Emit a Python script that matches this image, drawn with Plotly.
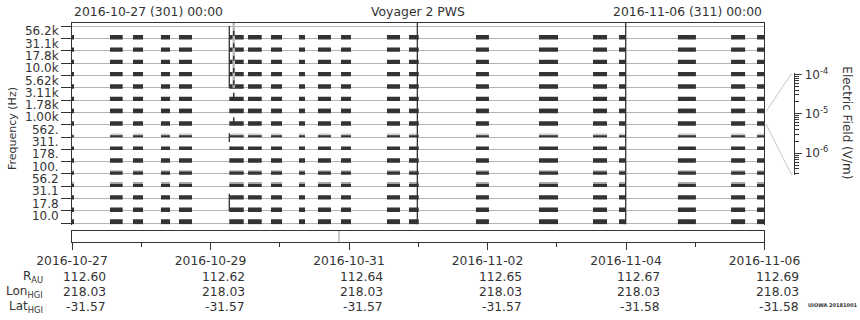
import plotly.graph_objects as go
import pandas as pd

# ---------------- data ----------------
FREQ_LABELS = ["10.0", "17.8", "31.1", "56.2", "100.", "178.", "311.", "562.",
               "1.00k", "1.78k", "3.11k", "5.62k", "10.0k", "17.8k", "31.1k", "56.2k"]

# observation intervals (present in every frequency channel)
OBS_START = ["2016-10-27 00:00", "2016-10-27 13:10", "2016-10-27 21:08", "2016-10-28 06:50",
             "2016-10-28 13:05", "2016-10-29 06:31", "2016-10-29 13:00", "2016-10-29 20:58",
             "2016-10-30 06:40", "2016-10-30 13:15", "2016-10-30 21:14", "2016-10-31 13:10",
             "2016-10-31 20:48", "2016-11-01 20:00", "2016-11-02 17:51", "2016-11-03 12:34",
             "2016-11-03 21:35", "2016-11-04 18:00", "2016-11-05 12:25", "2016-11-05 21:25"]
OBS_END = ["2016-10-27 00:30", "2016-10-27 17:34", "2016-10-28 00:37", "2016-10-28 09:58",
           "2016-10-28 17:35", "2016-10-29 11:31", "2016-10-29 17:45", "2016-10-30 00:47",
           "2016-10-30 08:45", "2016-10-30 17:45", "2016-10-31 00:41", "2016-10-31 17:41",
           "2016-11-01 00:10", "2016-11-02 00:30", "2016-11-03 00:26", "2016-11-03 17:25",
           "2016-11-03 23:54", "2016-11-05 00:14", "2016-11-05 17:17", "2016-11-06 00:00"]

# vertical (broadband) features: time and channel spans
EVENT_TIME = ["2016-10-29 06:31", "2016-10-31 23:41", "2016-11-03 23:54"]
EVENT_SPANS = [[(11.0, 16.0), (6.6, 7.3), (1.0, 2.4)], [(-0.1, 16.25)], [(-0.1, 16.25)]]
FAINT_EVENT_TIME = "2016-10-29 08:03"
FAINT_EVENT_SPAN = (11.0, 16.25)
SPIKE_TIME = "2016-10-29 08:03"
SPIKE_BANDS = [15, 14, 13, 12, 11, 10, 8]

MARKER_TIME = "2016-10-30 20:33"

EPH_DATES = ["2016-10-27", "2016-10-29", "2016-10-31", "2016-11-02", "2016-11-04", "2016-11-06"]
MINOR_DATES = ["2016-10-28", "2016-10-30", "2016-11-01", "2016-11-03", "2016-11-05"]
R_AU = ["112.60", "112.62", "112.64", "112.65", "112.67", "112.69"]
LON_HGI = ["218.03", "218.03", "218.03", "218.03", "218.03", "218.03"]
LAT_HGI = ["-31.57", "-31.57", "-31.57", "-31.57", "-31.58", "-31.58"]

CB_TICKS = [1e-6, 1e-5, 1e-4]
CB_TICKTEXT = ["10<sup>-6</sup>", "10<sup>-5</sup>", "10<sup>-4</sup>"]

T0, T1 = "2016-10-27 00:00", "2016-11-06 00:00"

# ---------------- styles ----------------
DARK = "#333333"
GRID = "#b4b4b4"
TXT = "#333333"
FONT = "DejaVu Sans"
DARK_BAR = {k: (-0.08, 0.35) for k in range(16)}
DARK_BAR[0] = (-0.08, 0.41)
DARK_BAR[3] = (-0.06, 0.25)
DARK_BAR[4] = (-0.06, 0.26)
DARK_BAR[6] = (-0.06, 0.28)
DARK_BAR[7] = (-0.03, 0.17)
GRAY_BAR = {9: (0.27, 0.09, "#a8a8a8"), 3: (0.19, 0.14, "#a8a8a8"),
            4: (0.2, 0.1, "#c4c4c4"), 7: (0.14, 0.14, "#cccccc")}

starts = pd.to_datetime(OBS_START)
ends = pd.to_datetime(OBS_END)
durs = [(e - s).total_seconds() * 1000 for s, e in zip(starts, ends)]

fig = go.Figure()

for k, (off, wid, col) in GRAY_BAR.items():
    fig.add_trace(go.Bar(orientation="h", y=[k] * len(OBS_START), x=durs, base=OBS_START,
                         offset=off, width=wid, marker=dict(color=col, line=dict(width=0)),
                         xaxis="x", yaxis="y", hoverinfo="skip", showlegend=False))

ys, xs, bs, offs, wids = [], [], [], [], []
for k in range(16):
    off, wid = DARK_BAR[k]
    for b, d in zip(OBS_START, durs):
        ys.append(k); xs.append(d); bs.append(b); offs.append(off); wids.append(wid)
fig.add_trace(go.Bar(orientation="h", y=ys, x=xs, base=bs, offset=offs, width=wids,
                     marker=dict(color=DARK, line=dict(width=0)),
                     xaxis="x", yaxis="y", hoverinfo="skip", showlegend=False))

fig.add_trace(go.Scatter(x=[FAINT_EVENT_TIME, FAINT_EVENT_TIME], y=list(FAINT_EVENT_SPAN),
                         mode="lines", line=dict(color="#bbbbbb", width=2.5),
                         xaxis="x", yaxis="y2", hoverinfo="skip", showlegend=False))
sx, sy = [], []
for k in SPIKE_BANDS:
    sx += [SPIKE_TIME, SPIKE_TIME, None]
    sy += [k + 0.2, k + 0.6, None]
fig.add_trace(go.Scatter(x=sx, y=sy, mode="lines", line=dict(color=DARK, width=1.5),
                         xaxis="x", yaxis="y2", hoverinfo="skip", showlegend=False))
vx, vy = [], []
for t, spans in zip(EVENT_TIME, EVENT_SPANS):
    for lo, hi in spans:
        vx += [t, t, None]
        vy += [lo, hi, None]
fig.add_trace(go.Scatter(x=vx, y=vy, mode="lines", line=dict(color=DARK, width=1.3),
                         xaxis="x", yaxis="y2", hoverinfo="skip", showlegend=False))

fig.add_trace(go.Scatter(x=[MARKER_TIME, MARKER_TIME], y=[0, 1], mode="lines",
                         line=dict(color="#999999", width=1),
                         xaxis="x2", yaxis="y3", hoverinfo="skip", showlegend=False))
fig.add_trace(go.Scatter(x=[None], y=[None], xaxis="x3", yaxis="y4", showlegend=False,
                         hoverinfo="skip"))

XD = [0, 0.8901]
YR = [-0.1, 16.25]
fig.update_layout(
    width=860, height=320,
    margin=dict(l=72, r=10, t=23, b=78, autoexpand=False),
    paper_bgcolor="white", plot_bgcolor="white",
    barmode="overlay",
    font=dict(family=FONT, size=12, color=TXT),
    xaxis=dict(type="date", range=[T0, T1], domain=XD, anchor="y", side="top",
               showline=True, linecolor=DARK, linewidth=1, ticks="", showticklabels=False,
               showgrid=False, zeroline=False, automargin=False),
    yaxis=dict(domain=[0.0799, 1], range=YR, tickvals=list(range(17)), showticklabels=False,
               ticks="outside", ticklen=10, tickcolor=DARK, showgrid=True, gridcolor=GRID,
               gridwidth=1, zeroline=False, showline=True, mirror=True, linecolor=DARK,
               anchor="x", automargin=False),
    yaxis2=dict(overlaying="y", range=YR, anchor="x", side="left",
                tickvals=[k + 0.6 for k in range(16)], ticktext=FREQ_LABELS,
                ticks="outside", ticklen=10, tickcolor="rgba(0,0,0,0)", showgrid=False,
                zeroline=False, showline=False, tickfont=dict(size=12), automargin=False),
    xaxis2=dict(type="date", range=[T0, T1], domain=XD, anchor="y3",
                showline=True, mirror=True, linecolor=DARK, ticks="outside", ticklen=7,
                tickcolor=DARK, tickvals=EPH_DATES, ticktext=EPH_DATES,
                minor=dict(tickvals=MINOR_DATES, ticks="outside", ticklen=4, tickcolor=DARK),
                showgrid=False, zeroline=False, tickfont=dict(size=12.3), automargin=False),
    yaxis3=dict(domain=[0, 0.0502], range=[0, 1], anchor="x2", showline=True, mirror=True,
                linecolor=DARK, ticks="", showticklabels=False, showgrid=False, zeroline=False,
                automargin=False),
    xaxis3=dict(domain=[0.90, 0.9284], range=[0, 1], anchor="y4", visible=False,
                automargin=False),
    yaxis4=dict(type="log", domain=[0.306, 0.770], range=[-6.55, -3.975], anchor="x3",
                side="right", showline=True, linecolor=DARK, ticks="outside", ticklen=7,
                tickcolor=DARK, tickmode="array", tickvals=CB_TICKS, ticktext=CB_TICKTEXT,
                minor=dict(tickvals=[m * 10.0 ** e for e in (-7, -6, -5) for m in range(2, 10)],
                           ticks="outside", ticklen=4, tickcolor=DARK),
                showgrid=False, zeroline=False, tickfont=dict(size=12), automargin=False),
)

def py(p):
    return (242 - p) / 219.0

def px(p):
    return (p - 72) / 778.0

ann = [
    dict(text="2016-10-27 (301) 00:00", x=0, y=py(11), xanchor="left", font=dict(size=12.4)),
    dict(text="2016-11-06 (311) 00:00", x=XD[1], y=py(11), xanchor="right", font=dict(size=12.4)),
    dict(text="Voyager 2 PWS", x=XD[1] / 2, y=py(11), xanchor="center", font=dict(size=12.4)),
    dict(text="Frequency (Hz)", x=px(12), y=py(129), textangle=-90, xanchor="center",
         font=dict(size=11)),
    dict(text="Electric Field (V/m)", x=px(846.7), y=py(123), textangle=90, xanchor="center",
         font=dict(size=12)),
    dict(text="<b>UIOWA 20181001</b>", x=px(859), y=py(305), xanchor="right",
         font=dict(size=5)),
    dict(text="R<sub>AU</sub>", x=px(45), y=py(277), xanchor="right", font=dict(size=12)),
    dict(text="Lon<sub>HGI</sub>", x=px(45), y=py(292), xanchor="right", font=dict(size=12)),
    dict(text="Lat<sub>HGI</sub>", x=px(45), y=py(307), xanchor="right", font=dict(size=12)),
]
for d, r, lo, la in zip(EPH_DATES, R_AU, LON_HGI, LAT_HGI):
    for val, p in ((r, 276.5), (lo, 291.5), (la, 306.5)):
        ann.append(dict(text=val, x=d, xref="x2", y=py(p), xanchor="right", xshift=36,
                        font=dict(size=12.3)))
for a in ann:
    a.setdefault("xref", "paper")
    a["yref"] = "paper"
    a["yanchor"] = "middle"
    a["showarrow"] = False
fig.update_layout(annotations=ann)

fig.update_layout(shapes=[
    dict(type="line", xref="paper", yref="paper", x0=px(766), y0=py(111.7), x1=px(791.7),
         y1=py(73.3), line=dict(color="#c8c8c8", width=1)),
    dict(type="line", xref="paper", yref="paper", x0=px(766), y0=py(124), x1=px(791.7),
         y1=py(175), line=dict(color="#c8c8c8", width=1)),
])

fig.write_html("out.html")
